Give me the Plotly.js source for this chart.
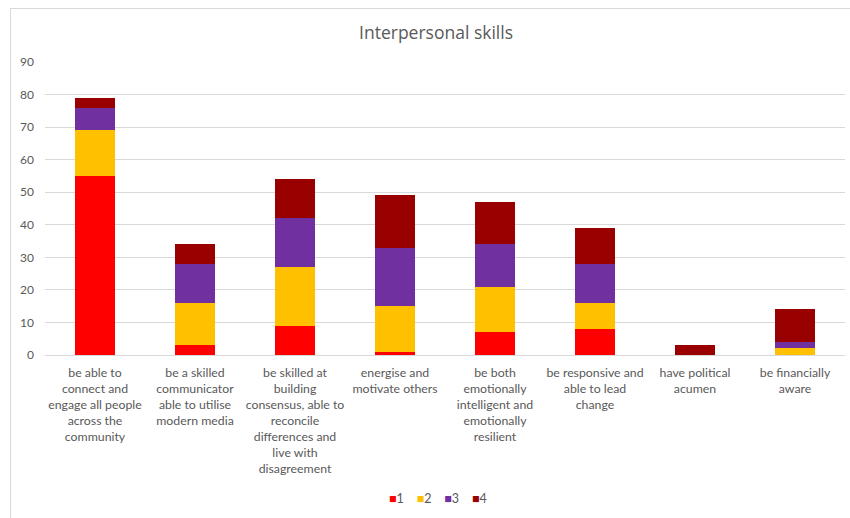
<!DOCTYPE html>
<html>
<head>
<meta charset="utf-8">
<script src="https://cdn.plot.ly/plotly-3.0.1.min.js"></script>
<style>
  html, body { margin: 0; padding: 0; background: #fff; }
  #chart { width: 850px; height: 518px; }
  #frame { position: absolute; left: 10px; top: 8px; width: 860px; height: 530px; border-left: 1px solid #d9d9d9; border-top: 1px solid #d9d9d9; pointer-events: none; }
</style>
</head>
<body>
<div id="chart"></div>
<div id="frame"></div>
<script>
const categories = [
  "be able to<br>connect and<br>engage all people<br>across the<br>community",
  "be a skilled<br>communicator<br>able to utilise<br>modern media",
  "be skilled at<br>building<br>consensus, able to<br>reconcile<br>differences and<br>live with<br>disagreement",
  "energise and<br>motivate others",
  "be both<br>emotionally<br>intelligent and<br>emotionally<br>resilient",
  "be responsive and<br>able to lead<br>change",
  "have political<br>acumen",
  "be financially<br>aware"
];
const seriesNames = ["1", "2", "3", "4"];
const values1 = [55, 3, 9, 1, 7, 8, 0, 0];
const values2 = [14, 13, 18, 14, 14, 8, 0, 2];
const values3 = [7, 12, 15, 18, 13, 12, 0, 2];
const values4 = [3, 6, 12, 16, 13, 11, 3, 10];
const colors = ["#FF0000", "#FFC000", "#7030A0", "#990000"];
const yTicks = [0, 10, 20, 30, 40, 50, 60, 70, 80, 90];

const allValues = [values1, values2, values3, values4];
const traces = allValues.map((v, i) => ({
  type: "bar",
  name: seriesNames[i],
  x: categories,
  y: v,
  marker: { color: colors[i], line: { width: 0 } },
  hoverinfo: "skip",
  showlegend: false
}));

const textColor = "#595959";
const legendText = seriesNames.map((n, i) =>
  "<span style='color:" + colors[i] + ";font-size:12.5px'>■</span>" + n
).join("&nbsp;&nbsp;&nbsp;&nbsp;");

const layout = {
  width: 850,
  height: 518,
  margin: { l: 45, r: 5, t: 62, b: 163 },
  paper_bgcolor: "#ffffff",
  plot_bgcolor: "#ffffff",
  barmode: "stack",
  bargap: 0.6,
  font: { family: "Lato, 'Open Sans', sans-serif", size: 12, color: textColor },
  title: {
    text: "Interpersonal skills",
    font: { family: "'Open Sans', Lato, sans-serif", size: 17.5, color: textColor },
    xref: "container", x: 0.513, xanchor: "center",
    yref: "container", y: 1 - 33 / 518, yanchor: "middle"
  },
  xaxis: {
    tickfont: { size: 12.3, color: textColor },
    showline: true, linecolor: "#d9d9d9", linewidth: 1,
    ticks: "", showgrid: false, tickangle: 0, automargin: false,
    ticklabelstandoff: 6
  },
  yaxis: {
    range: [0, 90],
    tickvals: yTicks,
    ticktext: yTicks.map(String),
    tickfont: { size: 12, color: textColor },
    showgrid: true, gridcolor: "#d9d9d9", gridwidth: 1,
    zeroline: false, showline: false, ticks: "",
    ticklabelstandoff: 10, automargin: false, fixedrange: true
  },
  showlegend: false,
  annotations: [{
    text: legendText,
    xref: "paper", x: (438 - 45) / 800, xanchor: "center",
    yref: "paper", y: (355 - 498) / 293, yanchor: "middle",
    showarrow: false,
    font: { size: 12.5, color: textColor }
  }]
};

Plotly.newPlot("chart", traces, layout, { displayModeBar: false, staticPlot: true });
</script>
</body>
</html>
